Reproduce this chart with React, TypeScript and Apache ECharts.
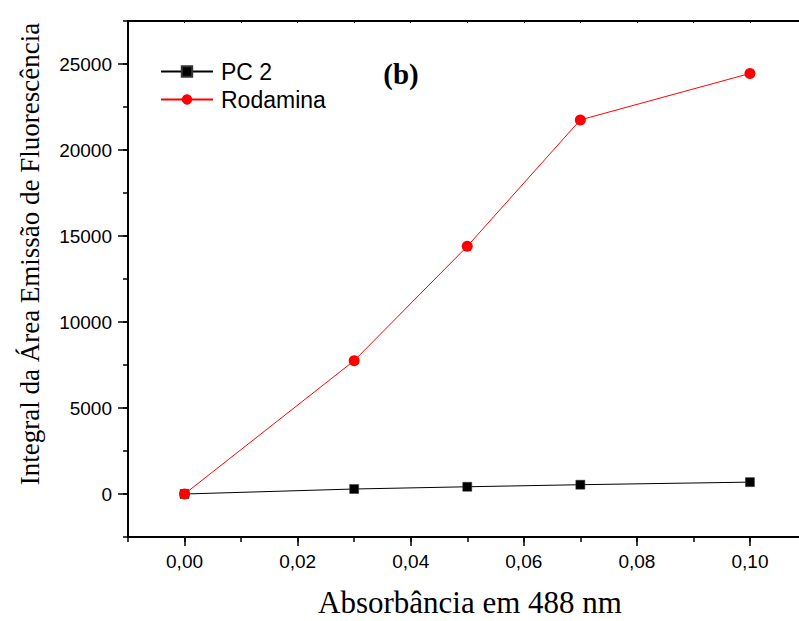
import React, { useEffect, useRef } from "react";
import * as echarts from "echarts";

// Absorbance at 488 nm (x) and integrated fluorescence emission area (y)
const absorbance = [0, 0.03, 0.05, 0.07, 0.1];
const pc2Values = [0, 290, 420, 540, 690];
const rodaminaValues = [0, 7750, 14400, 21750, 24450];

const seriesNames = ["PC 2", "Rodamina"];
const xTitle = "Absorbância em 488 nm";
const yTitle = "Integral da Área Emissão de Fluorescência";
const panelTag = "(b)";

const X_MIN = -0.01;
const X_MAX = 0.11;
const Y_MIN = -2500;
const Y_MAX = 27500;

const SANS = "'Liberation Sans', Arial, sans-serif";
const SERIF = "'Liberation Serif', 'Times New Roman', serif";

const pairs = (xs: number[], ys: number[]) => xs.map((x, i) => [x, ys[i]]);

export default function App() {
  const ref = useRef<HTMLDivElement>(null);

  useEffect(() => {
    if (!ref.current) return;
    const chart = echarts.init(ref.current, undefined, { renderer: "svg" });

    const hiddenLabel = { show: false };
    const noSplit = { show: false };

    chart.setOption({
      animation: false,
      backgroundColor: "#ffffff",
      // the frame runs on past the right edge of the page
      grid: { left: 128, top: 21, right: 0.5, bottom: 84, containLabel: false },
      legend: {
        orient: "vertical",
        left: 160,
        top: 60,
        padding: 0,
        itemWidth: 52,
        itemHeight: 13,
        itemGap: 5,
        data: seriesNames,
        textStyle: { fontFamily: SANS, fontSize: 23, color: "#000", padding: [0, 0, 0, 3] },
      },
      xAxis: [
        {
          // main bottom axis: labelled ticks every 0.02
          type: "value",
          position: "bottom",
          min: X_MIN,
          max: X_MAX,
          splitNumber: 6,
          axisLine: { onZero: false, lineStyle: { color: "#000", width: 2 } },
          axisTick: { show: true, length: 9, lineStyle: { color: "#000", width: 1.5 } },
          axisLabel: {
            margin: 15,
            fontFamily: SANS,
            fontSize: 19,
            color: "#000",
            showMinLabel: false,
            showMaxLabel: false,
            formatter: (v: number) => v.toFixed(2).replace(".", ","),
          },
          splitLine: noSplit,
        },
        {
          // short ticks every 0.01 on the bottom axis
          type: "value",
          position: "bottom",
          min: X_MIN,
          max: X_MAX,
          interval: 0.01,
          axisLine: { show: false, onZero: false },
          axisTick: { show: true, length: 5, lineStyle: { color: "#000", width: 1.5 } },
          axisLabel: hiddenLabel,
          splitLine: noSplit,
        },
        {
          // top frame line
          type: "value",
          position: "top",
          min: X_MIN,
          max: X_MAX,
          interval: 0.01,
          axisLine: { onZero: false, lineStyle: { color: "#000", width: 2 } },
          axisTick: { show: true, inside: true, length: 2, lineStyle: { color: "#000", width: 1 } },
          axisLabel: hiddenLabel,
          splitLine: noSplit,
        },
      ],
      yAxis: [
        {
          type: "value",
          position: "left",
          min: Y_MIN,
          max: Y_MAX,
          splitNumber: 6,
          axisLine: { onZero: false, lineStyle: { color: "#000", width: 2 } },
          axisTick: { show: true, length: 10, lineStyle: { color: "#000", width: 1.5 } },
          axisLabel: {
            margin: 16,
            fontFamily: SANS,
            fontSize: 19,
            color: "#000",
            showMinLabel: false,
            showMaxLabel: false,
            formatter: (v: number) => String(v),
          },
          splitLine: noSplit,
        },
        {
          type: "value",
          position: "left",
          min: Y_MIN,
          max: Y_MAX,
          interval: 2500,
          axisLine: { show: false, onZero: false },
          axisTick: { show: true, length: 5, lineStyle: { color: "#000", width: 1.5 } },
          axisLabel: hiddenLabel,
          splitLine: noSplit,
        },
      ],
      graphic: [
        {
          type: "text",
          x: 401,
          y: 74,
          style: {
            text: panelTag,
            font: `bold 29px ${SERIF}`,
            fill: "#000",
            align: "center",
            verticalAlign: "middle",
          },
        },
        {
          type: "text",
          x: 470,
          y: 602,
          style: {
            text: xTitle,
            font: `31px ${SERIF}`,
            fill: "#000",
            align: "center",
            verticalAlign: "middle",
          },
        },
        {
          type: "text",
          x: 30,
          y: 254,
          rotation: Math.PI / 2,
          style: {
            text: yTitle,
            font: `27px ${SERIF}`,
            fill: "#000",
            align: "center",
            verticalAlign: "middle",
          },
        },
      ],
      series: [
        {
          name: seriesNames[0],
          type: "line",
          xAxisIndex: 0,
          yAxisIndex: 0,
          data: pairs(absorbance, pc2Values),
          symbol: "rect",
          symbolSize: 9,
          lineStyle: { color: "#000", width: 1 },
          itemStyle: { color: "#000", borderColor: "#333", borderWidth: 0.5 },
          z: 2,
        },
        {
          name: seriesNames[1],
          type: "line",
          xAxisIndex: 0,
          yAxisIndex: 0,
          data: pairs(absorbance, rodaminaValues),
          symbol: "circle",
          symbolSize: 11,
          lineStyle: { color: "#ff0000", width: 1 },
          itemStyle: { color: "#ff0000" },
          z: 3,
        },
      ],
    });

    return () => chart.dispose();
  }, []);

  return (
    <div
      ref={ref}
      style={{ position: "fixed", left: 0, top: 0, width: 807, height: 621, background: "#fff" }}
    />
  );
}
